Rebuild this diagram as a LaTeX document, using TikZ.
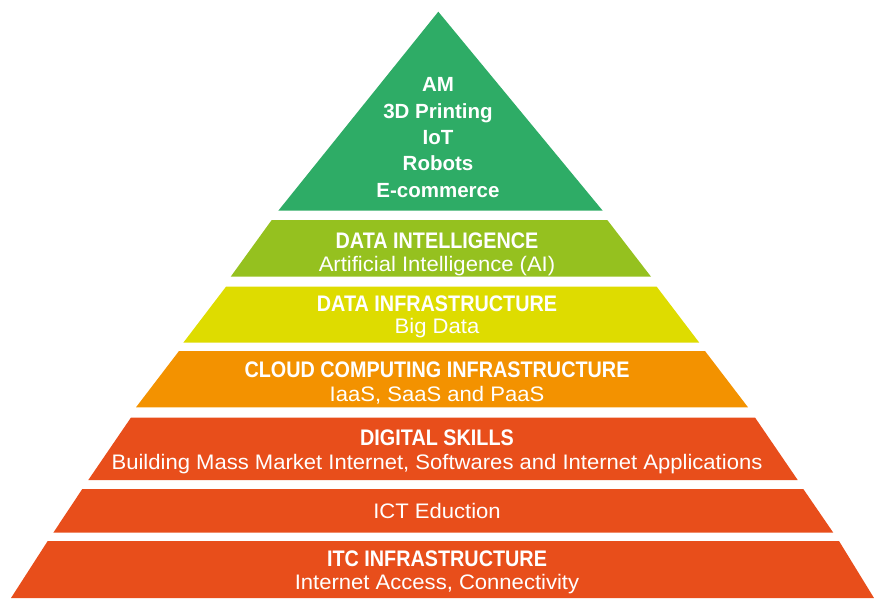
\documentclass[tikz,border=0pt]{standalone}
\usepackage{fontspec}
\setmainfont{Liberation Sans}
\newfontfamily\headfont[FakeStretch=0.88]{Liberation Sans}
\newfontfamily\subfont[FakeStretch=1.05]{Liberation Sans}
\definecolor{tipgreen}{RGB}{46,172,102}
\definecolor{aigreen}{RGB}{149,193,31}
\definecolor{datayellow}{RGB}{222,220,0}
\definecolor{cloudorange}{RGB}{243,146,0}
\definecolor{baseorange}{RGB}{232,78,27}
\begin{document}
\begin{tikzpicture}[x=1pt,y=-1pt,
  toptext/.style={text=white,align=center,anchor=base,inner sep=0pt,font=\fontsize{20.5}{26.3}\selectfont\bfseries},
  head/.style={text=white,anchor=base,inner sep=0pt,font=\headfont\fontsize{22.5}{24}\selectfont\bfseries},
  sub/.style={text=white,anchor=base,inner sep=0pt,font=\subfont\fontsize{21}{24}\selectfont}]
\useasboundingbox (0,0) rectangle (874,598);
% pyramid tiers, top to bottom
\fill[tipgreen]    (438.3,11.7) -- (602.7,210.7) -- (278.3,210.7) -- cycle;
\fill[aigreen]     (271.7,220) -- (607.3,220) -- (651,276.7) -- (230.7,276.7) -- cycle;
\fill[datayellow]  (226,286.7) -- (656.7,286.7) -- (699.3,342.7) -- (183.3,342.7) -- cycle;
\fill[cloudorange] (179,351) -- (705,351) -- (748,407.3) -- (136,407.3) -- cycle;
\fill[baseorange]  (131,417.5) -- (755,417.5) -- (797.7,480) -- (88.3,480) -- cycle;
\fill[baseorange]  (82.3,489) -- (803.3,489) -- (833.3,532.7) -- (53.3,532.7) -- cycle;
\fill[baseorange]  (47.7,541) -- (839,541) -- (874,598) -- (11,598) -- cycle;
% labels (the apex block is anchored at the baseline of its last line)
\node[toptext] (tip) at (438,197) {AM\\3D Printing\\IoT\\Robots\\E-commerce};
\node[head] (aih) at (437,248) {DATA INTELLIGENCE};
\node[sub]  (ais) at (437,271) {Artificial Intelligence (AI)};
\node[head] (dih) at (437,311) {DATA INFRASTRUCTURE};
\node[sub]  (dis) at (437,333) {Big Data};
\node[head] (cch) at (437,377) {CLOUD COMPUTING INFRASTRUCTURE};
\node[sub]  (ccs) at (437,401) {IaaS, SaaS and PaaS};
\node[head] (dsh) at (437,445) {DIGITAL SKILLS};
\node[sub]  (dss) at (437,469) {Building Mass Market Internet, Softwares and Internet Applications};
\node[sub]  (ict) at (437,518) {ICT Eduction};
\node[head] (ith) at (437,566) {ITC INFRASTRUCTURE};
\node[sub]  (its) at (437,589) {Internet Access, Connectivity};
\end{tikzpicture}
\end{document}
